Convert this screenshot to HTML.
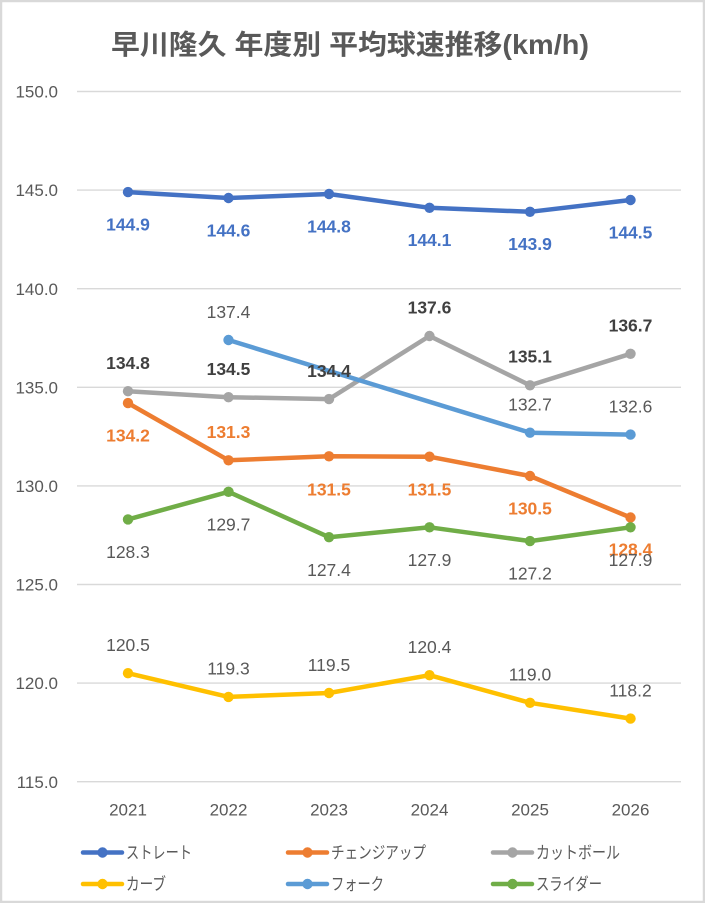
<!DOCTYPE html>
<html>
<head>
<meta charset="utf-8">
<style>
  html, body { margin: 0; padding: 0; background: #fff; }
  svg { display: block; }
  text { font-family: "Liberation Sans", "Noto Sans CJK JP", sans-serif; }
</style>
</head>
<body>
<svg width="705" height="903" viewBox="0 0 705 903" xmlns="http://www.w3.org/2000/svg">
  <rect x="0" y="0" width="705" height="903" fill="#ffffff"/>
  <rect x="1" y="1" width="703" height="901" fill="none" stroke="#d9d9d9" stroke-width="2.5"/>

  <!-- Title -->
  <text x="350" y="54" text-anchor="middle" font-size="27.5" font-weight="bold" fill="#595959" textLength="478" lengthAdjust="spacingAndGlyphs">早川隆久 年度別 平均球速推移(km/h)</text>

  <!-- Gridlines -->
  <g stroke="#d9d9d9" stroke-width="1.4">
    <line x1="77" y1="91.5" x2="681" y2="91.5"/>
    <line x1="77" y1="190.1" x2="681" y2="190.1"/>
    <line x1="77" y1="288.7" x2="681" y2="288.7"/>
    <line x1="77" y1="387.3" x2="681" y2="387.3"/>
    <line x1="77" y1="485.9" x2="681" y2="485.9"/>
    <line x1="77" y1="584.5" x2="681" y2="584.5"/>
    <line x1="77" y1="683.1" x2="681" y2="683.1"/>
    <line x1="77" y1="781.7" x2="681" y2="781.7"/>
  </g>

  <!-- Y axis labels -->
  <g font-size="17" fill="#595959" text-anchor="end">
    <text x="58" y="97.6">150.0</text>
    <text x="58" y="196.2">145.0</text>
    <text x="58" y="294.8">140.0</text>
    <text x="58" y="393.4">135.0</text>
    <text x="58" y="492.0">130.0</text>
    <text x="58" y="590.6">125.0</text>
    <text x="58" y="689.2">120.0</text>
    <text x="58" y="787.8">115.0</text>
  </g>

  <!-- X axis labels -->
  <g font-size="17" fill="#595959" text-anchor="middle">
    <text x="128" y="815.5">2021</text>
    <text x="228.5" y="815.5">2022</text>
    <text x="329" y="815.5">2023</text>
    <text x="429.5" y="815.5">2024</text>
    <text x="530" y="815.5">2025</text>
    <text x="630.5" y="815.5">2026</text>
  </g>

  <!-- Series lines -->
  <g fill="none" stroke-width="4.5" stroke-linejoin="round" stroke-linecap="round">
    <polyline stroke="#4472c4" points="128,192.1 228.5,198.0 329,194.0 429.5,207.8 530,211.8 630.5,200.0"/>
    <polyline stroke="#ed7d31" points="128,403.1 228.5,460.3 329,456.3 429.5,456.7 530,476.0 630.5,517.5"/>
    <polyline stroke="#a5a5a5" points="128,391.2 228.5,397.2 329,399.1 429.5,336.0 530,385.3 630.5,353.8"/>
    <polyline stroke="#ffc000" points="128,673.2 228.5,696.9 329,693.0 429.5,675.2 530,702.8 630.5,718.6"/>
    <polyline stroke="#5b9bd5" points="228.5,340.0 530,432.7 630.5,434.6"/>
    <polyline stroke="#70ad47" points="128,519.4 228.5,491.8 329,537.2 429.5,527.3 530,541.1 630.5,527.3"/>
  </g>

  <!-- Markers -->
  <g fill="#4472c4">
    <circle cx="128" cy="192.1" r="5.2"/><circle cx="228.5" cy="198.0" r="5.2"/><circle cx="329" cy="194.0" r="5.2"/>
    <circle cx="429.5" cy="207.8" r="5.2"/><circle cx="530" cy="211.8" r="5.2"/><circle cx="630.5" cy="200.0" r="5.2"/>
  </g>
  <g fill="#ed7d31">
    <circle cx="128" cy="403.1" r="5.2"/><circle cx="228.5" cy="460.3" r="5.2"/><circle cx="329" cy="456.3" r="5.2"/>
    <circle cx="429.5" cy="456.7" r="5.2"/><circle cx="530" cy="476.0" r="5.2"/><circle cx="630.5" cy="517.5" r="5.2"/>
  </g>
  <g fill="#a5a5a5">
    <circle cx="128" cy="391.2" r="5.2"/><circle cx="228.5" cy="397.2" r="5.2"/><circle cx="329" cy="399.1" r="5.2"/>
    <circle cx="429.5" cy="336.0" r="5.2"/><circle cx="530" cy="385.3" r="5.2"/><circle cx="630.5" cy="353.8" r="5.2"/>
  </g>
  <g fill="#ffc000">
    <circle cx="128" cy="673.2" r="5.2"/><circle cx="228.5" cy="696.9" r="5.2"/><circle cx="329" cy="693.0" r="5.2"/>
    <circle cx="429.5" cy="675.2" r="5.2"/><circle cx="530" cy="702.8" r="5.2"/><circle cx="630.5" cy="718.6" r="5.2"/>
  </g>
  <g fill="#5b9bd5">
    <circle cx="228.5" cy="340.0" r="5.2"/><circle cx="530" cy="432.7" r="5.2"/><circle cx="630.5" cy="434.6" r="5.2"/>
  </g>
  <g fill="#70ad47">
    <circle cx="128" cy="519.4" r="5.2"/><circle cx="228.5" cy="491.8" r="5.2"/><circle cx="329" cy="537.2" r="5.2"/>
    <circle cx="429.5" cy="527.3" r="5.2"/><circle cx="530" cy="541.1" r="5.2"/><circle cx="630.5" cy="527.3" r="5.2"/>
  </g>

  <!-- Data labels -->
  <g font-size="17.5" text-anchor="middle">
    <g fill="#4472c4" font-weight="bold">
      <text x="128" y="230.4">144.9</text>
      <text x="228.5" y="236.3">144.6</text>
      <text x="329" y="232.3">144.8</text>
      <text x="429.5" y="246.1">144.1</text>
      <text x="530" y="250.1">143.9</text>
      <text x="630.5" y="238.3">144.5</text>
    </g>
    <g fill="#ed7d31" font-weight="bold">
      <text x="128" y="441.6">134.2</text>
      <text x="228.5" y="438.1">131.3</text>
      <text x="329" y="495.6">131.5</text>
      <text x="429.5" y="495.6">131.5</text>
      <text x="530" y="514.6">130.5</text>
      <text x="630.5" y="555.6">128.4</text>
    </g>
    <g fill="#404040" font-weight="bold">
      <text x="128" y="369.0">134.8</text>
      <text x="228.5" y="375.0">134.5</text>
      <text x="329" y="376.9">134.4</text>
      <text x="429.5" y="313.6">137.6</text>
      <text x="530" y="362.6">135.1</text>
      <text x="630.5" y="331.3">136.7</text>
    </g>
    <g fill="#595959">
      <text x="128" y="651.0">120.5</text>
      <text x="228.5" y="674.7">119.3</text>
      <text x="329" y="670.8">119.5</text>
      <text x="429.5" y="653.0">120.4</text>
      <text x="530" y="680.6">119.0</text>
      <text x="630.5" y="696.4">118.2</text>
      <text x="228.5" y="317.8">137.4</text>
      <text x="530" y="410.5">132.7</text>
      <text x="630.5" y="412.4">132.6</text>
      <text x="128" y="558.0">128.3</text>
      <text x="228.5" y="530.4">129.7</text>
      <text x="329" y="575.8">127.4</text>
      <text x="429.5" y="565.9">127.9</text>
      <text x="530" y="579.7">127.2</text>
      <text x="630.5" y="565.9">127.9</text>
    </g>
  </g>

  <!-- Legend -->
  <g stroke-width="4.5" stroke-linecap="round">
    <line x1="83" y1="852.5" x2="122" y2="852.5" stroke="#4472c4"/>
    <line x1="288" y1="852.5" x2="327" y2="852.5" stroke="#ed7d31"/>
    <line x1="493" y1="852.5" x2="532" y2="852.5" stroke="#a5a5a5"/>
    <line x1="83" y1="884" x2="122" y2="884" stroke="#ffc000"/>
    <line x1="288" y1="884" x2="327" y2="884" stroke="#5b9bd5"/>
    <line x1="493" y1="884" x2="532" y2="884" stroke="#70ad47"/>
  </g>
  <circle cx="102.5" cy="852.5" r="5.2" fill="#4472c4"/>
  <circle cx="307.5" cy="852.5" r="5.2" fill="#ed7d31"/>
  <circle cx="512.5" cy="852.5" r="5.2" fill="#a5a5a5"/>
  <circle cx="102.5" cy="884" r="5.2" fill="#ffc000"/>
  <circle cx="307.5" cy="884" r="5.2" fill="#5b9bd5"/>
  <circle cx="512.5" cy="884" r="5.2" fill="#70ad47"/>
  <g font-size="17" fill="#595959">
    <text x="126" y="858.5" textLength="66" lengthAdjust="spacingAndGlyphs">ストレート</text>
    <text x="331" y="858.5" textLength="95" lengthAdjust="spacingAndGlyphs">チェンジアップ</text>
    <text x="536" y="858.5" textLength="84" lengthAdjust="spacingAndGlyphs">カットボール</text>
    <text x="126" y="890" textLength="40" lengthAdjust="spacingAndGlyphs">カーブ</text>
    <text x="331" y="890" textLength="53" lengthAdjust="spacingAndGlyphs">フォーク</text>
    <text x="536" y="890" textLength="66" lengthAdjust="spacingAndGlyphs">スライダー</text>
  </g>
</svg>
</body>
</html>
